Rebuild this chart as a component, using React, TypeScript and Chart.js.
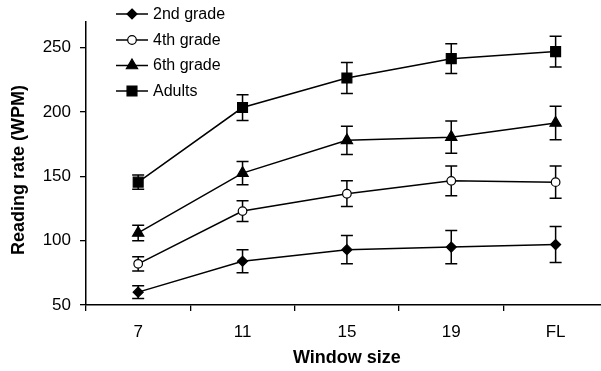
import React, { useEffect, useRef } from "react";
import { Chart, registerables } from "chart.js";

Chart.register(...registerables);

const categories = ["7", "11", "15", "19", "FL"];
const yTicks = [50, 100, 150, 200, 250];

const grade2 = [60, 84, 93, 95, 97];
const grade2Err = [5, 9, 11, 13, 14];
const grade4 = [82, 123, 136.5, 146.5, 145.5];
const grade4Err = [5.5, 8, 10, 11.5, 12.5];
const grade6 = [106, 152.5, 178, 180.5, 191.5];
const grade6Err = [6, 9, 11, 12.5, 13];
const adults = [145.5, 203.5, 226.5, 241.5, 247];
const adultsErr = [5.5, 10, 12, 11.5, 12];

const seriesNames = ["2nd grade", "4th grade", "6th grade", "Adults"];

const FONT = '"Liberation Sans", Arial, sans-serif';

function drawMarker(ctx: any, style: string, r: number, x: number, y: number, fill: string) {
  ctx.save();
  ctx.fillStyle = fill;
  ctx.strokeStyle = "#000";
  ctx.lineWidth = 1.2;
  ctx.beginPath();
  if (style === "circle") {
    ctx.arc(x, y, r, 0, Math.PI * 2);
  } else if (style === "rectRot") {
    ctx.moveTo(x, y - r);
    ctx.lineTo(x + r, y);
    ctx.lineTo(x, y + r);
    ctx.lineTo(x - r, y);
    ctx.closePath();
  } else if (style === "triangle") {
    ctx.moveTo(x, y - r);
    ctx.lineTo(x + r * 0.866, y + r / 2);
    ctx.lineTo(x - r * 0.866, y + r / 2);
    ctx.closePath();
  } else {
    const s = r * Math.SQRT1_2;
    ctx.rect(x - s, y - s, 2 * s, 2 * s);
  }
  ctx.fill();
  ctx.stroke();
  ctx.restore();
}

const errorBarPlugin = {
  id: "errorBars",
  beforeDatasetsDraw(chart: any) {
    const ctx = chart.ctx;
    const x = chart.scales.x;
    const y = chart.scales.y;
    ctx.save();
    ctx.strokeStyle = "#000";
    ctx.lineWidth = 1.5;
    chart.data.datasets.forEach((ds: any) => {
      ds.data.forEach((v: number, i: number) => {
        const e = ds.errors[i];
        const px = x.getPixelForValue(i);
        const top = y.getPixelForValue(v + e);
        const bot = y.getPixelForValue(v - e);
        const cap = 6;
        ctx.beginPath();
        ctx.moveTo(px, top);
        ctx.lineTo(px, bot);
        ctx.moveTo(px - cap, top);
        ctx.lineTo(px + cap, top);
        ctx.moveTo(px - cap, bot);
        ctx.lineTo(px + cap, bot);
        ctx.stroke();
      });
    });
    ctx.restore();
  },
};

const decorPlugin = {
  id: "decor",
  afterDraw(chart: any) {
    const ctx = chart.ctx;
    const area = chart.chartArea;
    ctx.save();
    ctx.fillStyle = "#000";
    ctx.font = `bold 18px ${FONT}`;
    ctx.textAlign = "center";
    ctx.textBaseline = "middle";
    ctx.fillText("Window size", (area.left + area.right) / 2, 358);
    ctx.save();
    ctx.translate(19, 170);
    ctx.rotate(-Math.PI / 2);
    ctx.fillText("Reading rate (WPM)", 0, 0);
    ctx.restore();
    const rows = [14, 40, 65.5, 91];
    chart.data.datasets.forEach((ds: any, i: number) => {
      const yy = rows[i];
      ctx.strokeStyle = "#000";
      ctx.lineWidth = 1.5;
      ctx.beginPath();
      ctx.moveTo(116, yy);
      ctx.lineTo(148, yy);
      ctx.stroke();
      drawMarker(ctx, ds.pointStyle, ds.pointRadius, 132, yy, ds.pointBackgroundColor);
      ctx.fillStyle = "#000";
      ctx.font = `16px ${FONT}`;
      ctx.textAlign = "left";
      ctx.textBaseline = "middle";
      ctx.fillText(seriesNames[i], 153, yy + 0.5);
    });
    ctx.restore();
  },
};

function makeDataset(data: number[], errors: number[], style: string, radius: number, fill: string) {
  return {
    data,
    errors,
    borderColor: "#000",
    borderWidth: 1.5,
    pointStyle: style,
    pointRadius: radius,
    pointBackgroundColor: fill,
    pointBorderColor: "#000",
    pointBorderWidth: 1.2,
    tension: 0,
    fill: false,
  } as any;
}

export default function App() {
  const ref = useRef<HTMLCanvasElement>(null);
  useEffect(() => {
    if (!ref.current) return;
    const chart = new Chart(ref.current, {
      type: "line",
      data: {
        labels: categories,
        datasets: [
          makeDataset(grade2, grade2Err, "rectRot", 5, "#000"),
          makeDataset(grade4, grade4Err, "circle", 4.3, "#fff"),
          makeDataset(grade6, grade6Err, "triangle", 6.5, "#000"),
          makeDataset(adults, adultsErr, "rect", 7, "#000"),
        ],
      },
      options: {
        responsive: false,
        animation: false,
        layout: { padding: { top: 22, left: 0, right: 0, bottom: 0 } },
        plugins: { legend: { display: false }, tooltip: { enabled: false } },
        scales: {
          x: {
            type: "category",
            offset: true,
            grid: {
              offset: true,
              drawOnChartArea: false,
              drawTicks: true,
              tickLength: 6,
              color: "#000",
              lineWidth: 1.3,
            },
            border: { display: true, color: "#000", width: 1.5 },
            ticks: { color: "#000", font: { family: FONT, size: 17 }, padding: 11 },
            afterFit: (s: any) => {
              s.height = 66;
            },
          },
          y: {
            min: 50,
            max: 270,
            grid: {
              drawOnChartArea: false,
              drawTicks: true,
              tickLength: 6,
              color: "#000",
              lineWidth: 1.3,
            },
            border: { display: true, color: "#000", width: 1.5 },
            ticks: { color: "#000", font: { family: FONT, size: 17 }, padding: 9 },
            afterBuildTicks: (s: any) => {
              s.ticks = yTicks.map((v) => ({ value: v }));
            },
            afterFit: (s: any) => {
              s.width = 86;
            },
          },
        },
      },
      plugins: [errorBarPlugin, decorPlugin],
    });
    return () => chart.destroy();
  }, []);
  return (
    <div
      style={{
        position: "fixed",
        left: 0,
        top: 0,
        width: 601,
        height: 371,
        overflow: "hidden",
        background: "#fff",
      }}
    >
      <canvas ref={ref} width={616} height={371} style={{ display: "block" }} />
    </div>
  );
}
